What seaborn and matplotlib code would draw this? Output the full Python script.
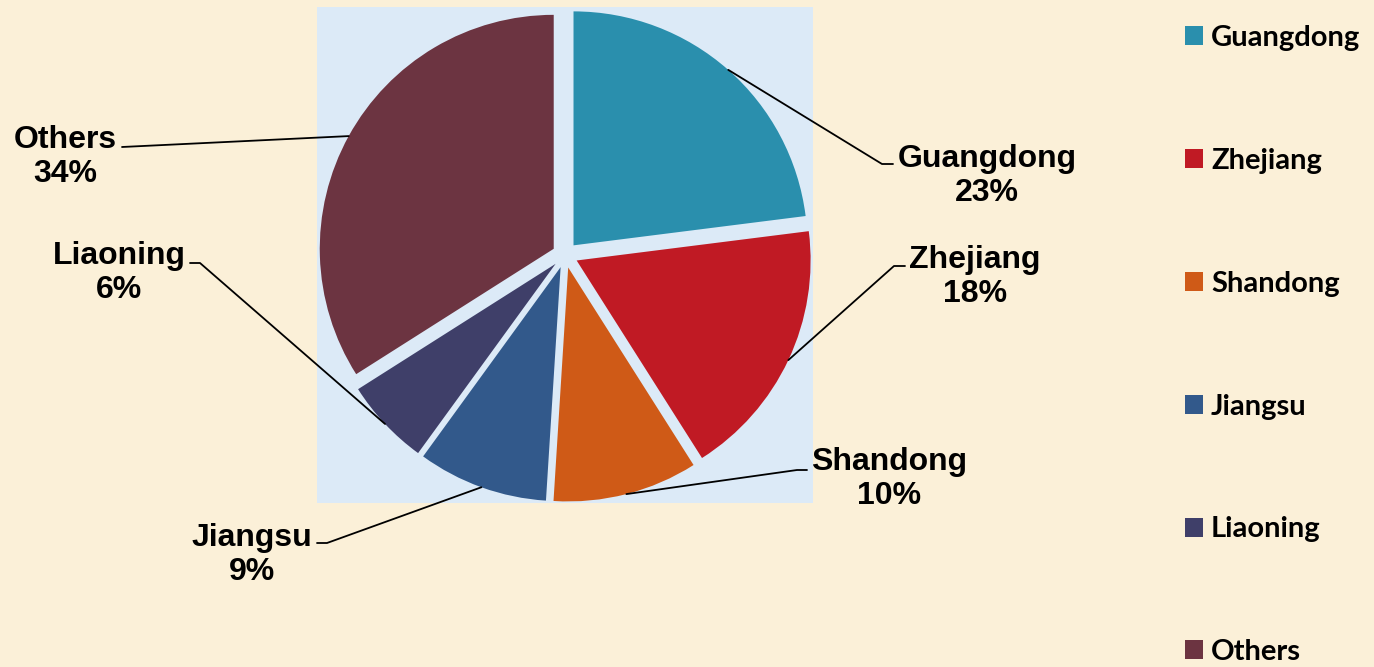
import numpy as np
import matplotlib
matplotlib.use("Agg")
import matplotlib.pyplot as plt
import seaborn as sns
from matplotlib.patches import Patch
from matplotlib.lines import Line2D

provinces = ["Guangdong", "Zhejiang", "Shandong", "Jiangsu", "Liaoning", "Others"]
shares = [23, 18, 10, 9, 6, 34]
colors = ["#2A8FAD", "#C01A24", "#CF5A17", "#32598B", "#3F3F69", "#6C3441"]

# label block centres and leader stub (image pixel coords, y from top)
label_pos = [(987, 176), (975, 277), (889, 479), (252, 555), (119, 273), (65, 157)]
stub_pos = [(893, 164, -11), (905, 266, -11), (807, 470, -10),
            (317, 543, 10), (190, 263, 10), (122, 147, 0)]

sns.set_theme(style="white")
plt.rcParams["font.family"] = ["Liberation Sans", "DejaVu Sans"]

W, H = 1374, 667
fig = plt.figure(figsize=(W / 100, H / 100), dpi=100, facecolor="#FBF0D8")
ax = fig.add_axes([317 / W, 1 - 503 / H, 496 / W, 496 / H])

wedges, _ = ax.pie(shares, colors=colors, startangle=90, counterclock=False,
                   explode=[0.055] * len(shares), frame=True,
                   wedgeprops=dict(linewidth=0))
ax.set_facecolor("#DCEAF7")
for s in ax.spines.values():
    s.set_visible(False)
ax.set_xlim(-1.06, 1.06)
ax.set_ylim(-1.06, 1.06)
ax.set_aspect("equal")
ax.set_xticks([])
ax.set_yticks([])

# leader lines go from the label to the middle of each wedge's arc
for w, name, val, (lx, ly), (sx, sy, dx) in zip(wedges, provinces, shares, label_pos, stub_pos):
    mid = np.deg2rad((w.theta1 + w.theta2) / 2)
    px = w.center[0] + w.r * np.cos(mid)
    py = w.center[1] + w.r * np.sin(mid)
    ex, ey = ax.transData.transform((px, py))
    xs = [sx, sx + dx, ex]
    ys = [H - sy, H - sy, ey]
    fig.add_artist(Line2D(xs, ys, transform=None, color="black", lw=1.3))
    fig.text(lx / W, 1 - ly / H, f"{name}\n{val}%", ha="center", va="center",
             fontsize=23, fontweight="bold", linespacing=1.15, color="black")

handles = [Patch(facecolor=c, edgecolor="none") for c in colors]
leg = fig.legend(handles, provinces, loc="upper left", bbox_to_anchor=(1185 / W, 1 - 25 / H),
                 frameon=False, prop=dict(family="Lato", weight="bold", size=21),
                 labelcolor="black",
                 handlelength=0.62, handleheight=0.62, handletextpad=0.27,
                 labelspacing=3.32, borderpad=0, borderaxespad=0)

fig.savefig("out.png", dpi=100, facecolor=fig.get_facecolor())
